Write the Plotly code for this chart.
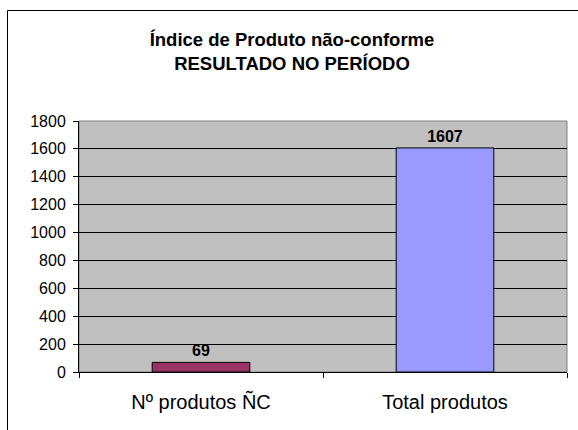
import plotly.graph_objects as go

categories = ["Nº produtos ÑC", "Total produtos"]
values = [69, 1607]
bar_colors = ["#993366", "#9999FF"]
y_ticks = [0, 200, 400, 600, 800, 1000, 1200, 1400, 1600, 1800]
title_lines = ["Índice de Produto não-conforme", "RESULTADO NO PERÍODO"]

W, H = 578, 430
L, R, T, B = 79, 11, 121, 58
pw, ph = W - L - R, H - T - B

def px_to_paper_x(x):
    return (x - L) / pw

def px_to_paper_y(y):
    return (H - B - y) / ph

fig = go.Figure()
fig.add_trace(go.Bar(
    x=categories,
    y=values,
    width=0.4,
    marker=dict(color=bar_colors, line=dict(color="black", width=1)),
    text=[f"<b>{v}</b>" for v in values],
    textposition="outside",
    textfont=dict(family="Liberation Sans, Arial", size=16, color="black"),
    cliponaxis=False,
    hoverinfo="skip",
))

fig.update_layout(
    width=W, height=H,
    margin=dict(l=L, r=R, t=T, b=B),
    paper_bgcolor="white",
    plot_bgcolor="#C0C0C0",
    showlegend=False,
    font=dict(family="Liberation Sans, Arial", color="black"),
    title=dict(
        text="<b>" + title_lines[0] + "<br>" + title_lines[1] + "</b>",
        x=292 / W, xref="container", xanchor="center",
        y=1 - 46 / H, yref="container", yanchor="middle",
        font=dict(family="Liberation Sans, Arial", size=18.5, color="black"),
    ),
    bargap=0.6,
    xaxis=dict(
        type="category",
        showgrid=False,
        showline=True, linecolor="black", linewidth=1,
        ticks="outside", tickson="boundaries", ticklen=5, tickcolor="black",
        tickfont=dict(size=20, color="black"),
        ticklabelstandoff=12,
        zeroline=False,
    ),
    yaxis=dict(
        range=[0, 1800],
        tickvals=y_ticks,
        showgrid=True, gridcolor="black", gridwidth=1,
        showline=True, linecolor="black", linewidth=1,
        ticks="outside", ticklen=5, tickcolor="black",
        tickfont=dict(size=16, color="black"),
        ticklabelstandoff=4,
        zeroline=False,
    ),
    shapes=[
        dict(type="rect", xref="paper", yref="paper", x0=0, x1=1, y0=0, y1=1,
             line=dict(color="#808080", width=1), layer="between"),
        dict(type="line", xref="paper", yref="paper",
             x0=px_to_paper_x(7.5), x1=px_to_paper_x(W + 5),
             y0=px_to_paper_y(10.5), y1=px_to_paper_y(10.5),
             line=dict(color="black", width=1)),
        dict(type="line", xref="paper", yref="paper",
             x0=px_to_paper_x(7.5), x1=px_to_paper_x(7.5),
             y0=px_to_paper_y(10.5), y1=px_to_paper_y(H + 5),
             line=dict(color="black", width=1)),
    ],
)

fig.write_html(
    "out.html",
    config={"displayModeBar": False, "staticPlot": True},
    post_script="document.body.style.margin='0';document.body.style.overflow='hidden';",
)
